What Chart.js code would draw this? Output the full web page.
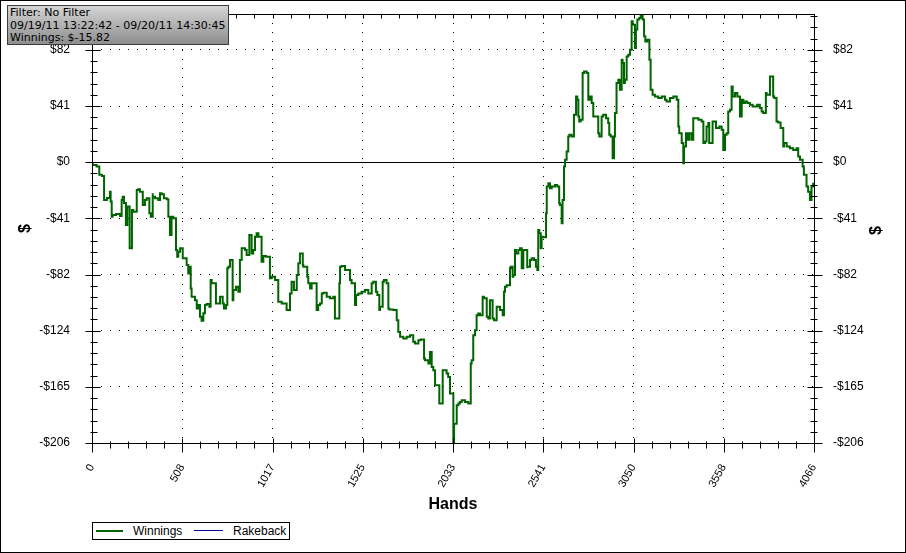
<!DOCTYPE html>
<html>
<head>
<meta charset="utf-8">
<script src="https://cdn.jsdelivr.net/npm/chart.js@4"></script>
<style>
  html, body { margin: 0; padding: 0; background: #fff; }
  #wrap { position: relative; width: 906px; height: 553px; }
  #info {
    position: absolute; left: 7px; top: 5px; width: 218px; height: 37px;
    border: 1px solid #3c3c3c;
    background: linear-gradient(to bottom, #d4d4d4, #8e8e8e);
    font: 11px "DejaVu Sans", sans-serif; line-height: 12.5px; color: #000;
    padding: 1px 0 0 2px; box-sizing: content-box; white-space: nowrap;
  }
  #legend {
    position: absolute; left: 92px; top: 522px; width: 196px; height: 16px;
    border: 1px solid #000; background: #fff;
    font: 12px "Liberation Sans", Arial, sans-serif; color: #000;
  }
  #legend span { position: absolute; top: 1px; }
  #legend i { position: absolute; display: block; }
</style>
</head>
<body>
<div id="wrap">
  <canvas id="chart" width="906" height="553"></canvas>
  <div id="info">Filter: No Filter<br>09/19/11 13:22:42 - 09/20/11 14:30:45<br>Winnings: $-15.82</div>
  <div id="legend">
    <i style="left:3px;top:7px;width:27px;height:2px;background:#006400"></i>
    <span style="left:40px">Winnings</span>
    <i style="left:101px;top:7px;width:29px;height:1px;background:#000099"></i>
    <span style="left:140px">Rakeback</span>
  </div>
</div>
<script>
// hands played (x) and cumulative winnings in $ (y)
const hands = [
  0, 4, 26, 41, 41, 56, 68, 68, 84, 101, 105,
  111, 116, 135, 158, 167, 173, 180, 191, 199, 212,
  225, 233, 252, 261, 270, 286, 298, 308, 323, 331,
  342, 342, 355, 373, 383, 392, 405, 421, 430, 439,
  448, 458, 473, 480, 486, 496, 511, 518, 533, 542,
  548, 556, 561, 580, 590, 599, 608, 617, 627, 636,
  646, 661, 668, 674, 683, 698, 702, 721, 736, 743,
  755, 762, 768, 777, 792, 796, 811, 824, 833, 843,
  862, 871, 886, 899, 908, 918, 927, 937, 955, 965,
  980, 1002, 1012, 1031, 1049, 1068, 1096, 1115, 1124, 1137,
  1153, 1162, 1171, 1187, 1190, 1212, 1218, 1228, 1237, 1250,
  1265, 1274, 1284, 1294, 1303, 1322, 1340, 1359, 1368, 1378,
  1393, 1397, 1406, 1425, 1453, 1462, 1481, 1487, 1500, 1518,
  1537, 1556, 1575, 1584, 1599, 1607, 1618, 1622, 1637, 1644,
  1659, 1669, 1674, 1697, 1716, 1725, 1735, 1753, 1772, 1791,
  1809, 1819, 1838, 1851, 1870, 1875, 1894, 1903, 1913, 1922,
  1932, 1941, 1956, 1963, 1975, 1978, 1997, 2006, 2016, 2026,
  2035, 2039, 2044, 2054, 2063, 2072, 2082, 2101, 2119, 2133,
  2138, 2147, 2157, 2166, 2175, 2185, 2200, 2208, 2223, 2232,
  2241, 2256, 2264, 2279, 2288, 2298, 2313, 2320, 2326, 2335,
  2354, 2358, 2369, 2373, 2382, 2388, 2401, 2410, 2420, 2429,
  2438, 2451, 2451, 2467, 2476, 2489, 2500, 2508, 2513, 2519,
  2527, 2532, 2541, 2557, 2561, 2570, 2579, 2589, 2607, 2620,
  2631, 2635, 2645, 2650, 2658, 2658, 2664, 2673, 2682, 2688,
  2701, 2714, 2714, 2726, 2733, 2739, 2744, 2752, 2763, 2771,
  2786, 2795, 2804, 2814, 2823, 2833, 2851, 2857, 2870, 2879,
  2895, 2907, 2913, 2921, 2932, 2940, 2945, 2954, 2964, 2973,
  2983, 2988, 2996, 3001, 3011, 3020, 3030, 3039, 3045, 3058,
  3063, 3071, 3082, 3090, 3101, 3109, 3116, 3127, 3139, 3146,
  3157, 3170, 3189, 3208, 3227, 3236, 3255, 3274, 3293, 3302,
  3307, 3321, 3330, 3334, 3345, 3353, 3364, 3377, 3386, 3396,
  3415, 3433, 3443, 3452, 3461, 3471, 3476, 3480, 3495, 3503,
  3514, 3518, 3533, 3546, 3555, 3565, 3574, 3583, 3593, 3602,
  3608, 3621, 3634, 3649, 3659, 3668, 3677, 3690, 3705, 3720,
  3733, 3746, 3761, 3771, 3780, 3795, 3799, 3818, 3827, 3836,
  3842, 3855, 3864, 3878, 3893, 3897, 3912, 3930, 3949, 3968,
  3977, 3987, 4002, 4009, 4024, 4033, 4043, 4052, 4061, 4066
];
const winnings = [
  0, -1.2, -2.0, -3.2, -6.9, -9.3, -10.1, -27.7, -27.7, -26.2, -21.6,
  -28.9, -40.0, -38.7, -38.0, -39.5, -27.7, -25.3, -29.9, -46.1, -32.6,
  -63.2, -35.0, -36.3, -20.4, -19.8, -21.6, -31.4, -27.7, -26.5, -37.5,
  -40.0, -22.8, -25.3, -26.5, -27.7, -22.8, -23.5, -26.5, -27.2, -40.0,
  -53.4, -40.0, -41.1, -64.4, -69.4, -65.7, -63.2, -70.5, -70.5, -75.5,
  -81.6, -76.7, -92.6, -98.8, -101.2, -107.3, -104.8, -113.4, -116.4, -110.9,
  -104.8, -104.1, -106.1, -86.5, -88.9, -88.9, -103.6, -103.6, -98.8, -103.6,
  -107.3, -104.8, -77.9, -76.7, -71.8, -101.2, -93.8, -91.4, -95.1, -71.8,
  -63.2, -64.4, -68.1, -53.4, -66.9, -64.4, -54.7, -52.2, -54.7, -73.0,
  -68.8, -69.3, -85.2, -84.1, -86.5, -102.4, -103.6, -108.5, -96.3, -87.7,
  -93.8, -82.8, -74.2, -66.9, -75.5, -76.7, -84.1, -88.9, -92.6, -88.9,
  -88.9, -108.5, -104.8, -103.6, -96.3, -95.8, -98.8, -99.9, -98.8, -114.6,
  -114.6, -88.9, -76.7, -76.2, -79.1, -86.5, -88.9, -104.8, -97.5, -96.3,
  -95.1, -93.8, -96.3, -88.9, -87.7, -95.1, -97.5, -108.5, -106.1, -87.7,
  -86.5, -88.9, -107.3, -108.0, -108.5, -115.9, -124.5, -128.1, -129.3, -128.1,
  -126.9, -131.8, -133.0, -130.6, -130.1, -144.0, -145.3, -147.7, -139.2, -150.2,
  -152.6, -163.6, -163.6, -177.1, -177.1, -152.6, -152.6, -155.0, -157.5, -169.7,
  -169.7, -206, -191.8, -191.8, -178.3, -177.1, -175.9, -174.7, -175.9, -177.1,
  -147.7, -145.3, -126.9, -123.2, -112.2, -111.0, -112.2, -98.8, -99.9, -113.4,
  -114.6, -101.2, -114.6, -115.9, -106.1, -106.1, -108.5, -112.2, -95.1, -91.4,
  -90.2, -77.9, -76.7, -84.1, -82.8, -64.4, -66.9, -64.4, -63.2, -77.9,
  -64.4, -64.4, -77.9, -76.7, -71.8, -70.5, -71.8, -76.7, -79.1, -49.7,
  -52.2, -63.2, -54.7, -55.1, -37.5, -17.9, -15.4, -19.1, -17.9, -16.7,
  -17.9, -30.1, -31.4, -44.8, -27.7, -13.0, -3.2, 1.7, 7.8, 18.8,
  20.1, 18.8, 33.5, 34.8, 48.2, 45.8, 33.5, 29.8, 31.1, 65.4,
  66.6, 65.4, 45.8, 48.2, 43.4, 33.5, 33.5, 21.3, 18.8, 33.5,
  34.8, 32.3, 28.7, 20.1, 18.8, 2.9, 18.8, 36.0, 58.0, 60.4,
  53.1, 75.2, 72.7, 58.0, 60.4, 77.6, 78.8, 82.5, 103.3, 100.9,
  83.8, 97.3, 104.6, 105.8, 108.2, 104.6, 92.3, 88.6, 89.9, 75.2,
  53.1, 49.4, 48.2, 47.0, 48.2, 45.8, 44.5, 47.0, 48.2, 45.8,
  26.2, 21.3, 14.0, -0.7, 11.5, 21.3, 16.4, 21.3, 16.4, 32.3,
  32.3, 31.1, 29.8, 14.0, 15.1, 26.2, 28.7, 14.0, 14.0, 29.8,
  29.8, 25.0, 25.0, 26.2, 23.7, 9.0, 20.1, 21.3, 37.2, 38.4,
  55.5, 48.2, 50.7, 48.2, 33.5, 45.8, 43.4, 44.5, 43.4, 42.1,
  40.9, 40.9, 42.1, 39.7, 37.2, 36.0, 50.7, 49.4, 62.9, 62.9,
  48.2, 47.0, 29.8, 29.1, 25.0, 11.5, 14.0, 11.5, 10.3, 9.0,
  10.3, 4.1, 1.7, -3.2, -9.3, -17.9, -21.6, -27.7, -17.9, -15.8
];
const rakeback = [];

// axis ticks
const xTicks = [0, 508.25, 1016.5, 1524.75, 2033, 2541.25, 3049.5, 3557.75, 4066];
const yTicks = [-206, -164.8, -123.6, -82.4, -41.2, 0, 41.2, 82.4];
const xMinorStep = 101.65;
const yMinorStep = 8.24;
const yMin = -206, yMax = 108.7;

const money = v => {
  const r = Math.round(v);
  return r < 0 ? '-$' + (-r) : '$' + r;
};

const noPad = s => {
  s.paddingTop = 0; s.paddingBottom = 0;
  s.paddingLeft = 0; s.paddingRight = 0;
};

const axesPlugin = {
  id: 'axesPlugin',
  beforeDatasetsDraw(chart) {
    const {ctx, chartArea: a, scales: {y}} = chart;
    const y0 = Math.round(y.getPixelForValue(0)) + 0.5;
    ctx.save();
    ctx.strokeStyle = '#000';
    ctx.lineWidth = 1;
    ctx.beginPath();
    ctx.moveTo(a.left - 6, y0);
    ctx.lineTo(a.right, y0);
    ctx.stroke();
    ctx.restore();
  },
  afterDraw(chart) {
    const {ctx, chartArea: a, scales: {x, y}} = chart;
    const L = Math.round(a.left) + 0.5, R = Math.round(a.right) + 0.5;
    const T = Math.round(a.top) + 0.5, B = Math.round(a.bottom) + 0.5;
    ctx.save();
    ctx.strokeStyle = '#000';
    ctx.lineWidth = 1;
    ctx.beginPath();
    // frame of the plot
    ctx.moveTo(L, T); ctx.lineTo(R, T);
    ctx.moveTo(L, T); ctx.lineTo(L, B);
    ctx.moveTo(R, T); ctx.lineTo(R, B);
    ctx.moveTo(L, B); ctx.lineTo(R, B);
    // y ticks on both sides
    for (let k = 0; yMin + k * yMinorStep <= yMax + 0.01; k++) {
      const py = Math.round(y.getPixelForValue(yMin + k * yMinorStep)) + 0.5;
      const major = k % 5 === 0;
      ctx.moveTo(L - (major ? 7 : 2), py); ctx.lineTo(L + (major ? 8 : 5), py);
      ctx.moveTo(R - (major ? 7 : 4), py); ctx.lineTo(R + (major ? 8 : 3), py);
    }
    // x ticks, bottom and top
    for (let k = 0; k * xMinorStep <= 4066.01; k++) {
      const px = Math.round(x.getPixelForValue(k * xMinorStep)) + 0.5;
      const major = k % 5 === 0;
      ctx.moveTo(px, B - (major ? 5 : 2)); ctx.lineTo(px, B + (major ? 9 : 5));
      ctx.moveTo(px, T); ctx.lineTo(px, T + 4);
    }
    ctx.stroke();
    // right-hand axis title
    ctx.font = 'bold 16px "Liberation Sans", Arial, sans-serif';
    ctx.fillStyle = '#000';
    ctx.textAlign = 'center';
    ctx.textBaseline = 'middle';
    ctx.translate(877, (a.top + a.bottom) / 2 + 2);
    ctx.rotate(-Math.PI / 2);
    ctx.fillText('$', 0, 0);
    ctx.restore();
    // outer frame
    ctx.save();
    ctx.strokeStyle = '#000';
    ctx.strokeRect(0.5, 0.5, chart.width - 1, chart.height - 1);
    ctx.restore();
  }
};

new Chart(document.getElementById('chart'), {
  type: 'line',
  data: {
    datasets: [
      {
        label: 'Winnings',
        data: hands.map((h, i) => ({x: h, y: winnings[i]})),
        borderColor: '#006400',
        borderWidth: 2,
        pointRadius: 0,
        stepped: 'after',
        fill: false
      },
      {
        label: 'Rakeback',
        data: rakeback,
        borderColor: '#000099',
        borderWidth: 1,
        pointRadius: 0
      }
    ]
  },
  options: {
    responsive: false,
    animation: false,
    devicePixelRatio: 1,
    layout: {padding: {top: 14, left: 0, right: 0, bottom: 0}},
    plugins: {legend: {display: false}, tooltip: {enabled: false}},
    scales: {
      x: {
        type: 'linear',
        min: 0,
        max: 4066,
        afterBuildTicks: s => { s.ticks = xTicks.map(v => ({value: v})); },
        afterFit: s => { s.height = 110; noPad(s); },
        grid: {color: '#000', lineWidth: 1, drawTicks: false},
        border: {display: false, dash: [1, 8]},
        ticks: {
          autoSkip: false,
          minRotation: 60,
          maxRotation: 60,
          padding: 19,
          color: '#000',
          font: {family: '"Liberation Sans", Arial, sans-serif', size: 11},
          callback: v => String(Math.round(v))
        },
        title: {
          display: true,
          text: 'Hands',
          color: '#000',
          font: {family: '"Liberation Sans", Arial, sans-serif', size: 16, weight: 'bold'},
          padding: {top: 0, bottom: 39}
        }
      },
      y: {
        position: 'left',
        min: yMin,
        max: yMax,
        afterBuildTicks: s => { s.ticks = yTicks.map(v => ({value: v})); },
        afterFit: s => { s.width = 92; noPad(s); },
        grid: {color: '#000', lineWidth: 1, drawTicks: false},
        border: {display: false, dash: [1, 8]},
        ticks: {
          padding: 22,
          color: '#000',
          font: {family: '"Liberation Sans", Arial, sans-serif', size: 12},
          callback: v => money(v)
        },
        title: {
          display: true,
          text: '$',
          color: '#000',
          font: {family: '"Liberation Sans", Arial, sans-serif', size: 16, weight: 'bold'},
          padding: {top: 16, bottom: 0}
        }
      },
      y2: {
        position: 'right',
        min: yMin,
        max: yMax,
        afterBuildTicks: s => { s.ticks = yTicks.map(v => ({value: v})); },
        afterFit: s => { s.width = 92; noPad(s); },
        grid: {display: false, drawTicks: false},
        border: {display: false},
        ticks: {
          padding: 19,
          color: '#000',
          font: {family: '"Liberation Sans", Arial, sans-serif', size: 12},
          callback: v => money(v)
        }
      }
    }
  },
  plugins: [axesPlugin]
});
</script>
</body>
</html>
